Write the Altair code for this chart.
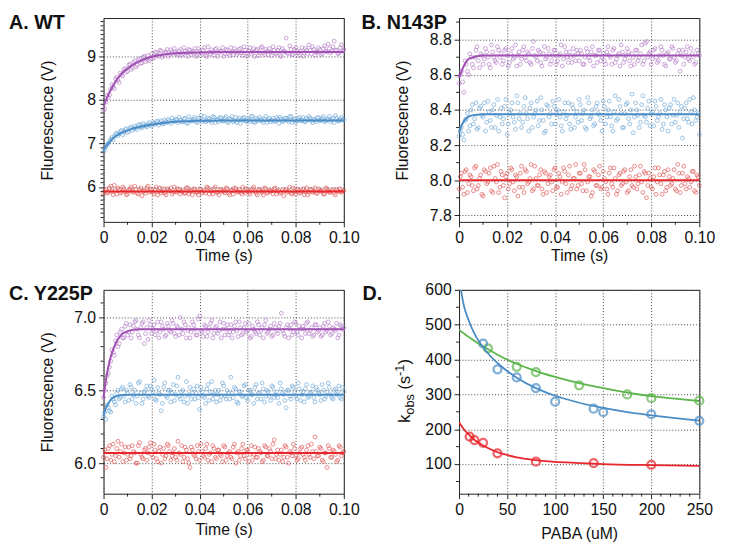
import altair as alt
import pandas as pd

FONT = "Liberation Sans"
W, H = 244, 207

# sample times (s): whole-ms samples and the half-ms samples between them
time_s = [round(i * 0.001, 4) for i in range(101)]
time_h = [round(0.0005 + i * 0.001, 4) for i in range(100)]

# ---------------- Panel A (WT) ----------------
A_purple = [
    7.75, 7.95, 8.05, 8.25, 8.30, 8.48, 8.45, 8.62, 8.55, 8.72,
    8.66, 8.82, 8.74, 8.90, 8.80, 8.95, 8.85, 9.00, 8.92, 8.90,
    9.05, 8.96, 9.08, 9.00, 9.12, 9.02, 9.10, 9.00, 9.15, 9.05,
    9.10, 9.02, 9.16, 9.06, 9.12, 9.00, 9.14, 9.08, 9.18, 9.04,
    9.12, 9.05, 9.20, 9.00, 9.10, 9.15, 9.02, 9.18, 9.08, 9.12,
    9.00, 9.16, 9.06, 9.20, 9.04, 9.12, 9.08, 9.18, 9.02, 9.14,
    9.06, 9.20, 9.10, 9.00, 9.16, 9.08, 9.22, 9.04, 9.12, 9.18,
    9.02, 9.14, 9.08, 9.20, 9.00, 9.12, 9.42, 9.06, 9.16, 9.04,
    9.20, 9.08, 9.12, 9.00, 9.18, 9.06, 9.14, 9.22, 9.02, 9.10,
    9.16, 9.06, 9.24, 9.10, 9.18, 9.12, 9.35, 9.14, 9.08, 9.26,
    9.15]
A_purple_h = [
    7.80, 8.10, 8.12, 8.35, 8.26, 8.52, 8.40, 8.58, 8.70, 8.64,
    8.80, 8.70, 8.86, 8.76, 8.92, 8.84, 8.98, 8.88, 9.02, 8.94,
    8.98, 9.10, 9.02, 9.14, 8.98, 9.08, 9.16, 9.04, 9.10, 9.18,
    9.06, 9.12, 9.02, 9.20, 9.08, 9.16, 9.04, 9.12, 9.00, 9.18,
    9.08, 9.14, 9.02, 9.22, 9.06, 9.10, 9.16, 9.00, 9.12, 9.20,
    9.06, 9.14, 9.02, 9.10, 9.18, 9.04, 9.16, 9.08, 9.22, 9.00,
    9.12, 9.06, 9.18, 9.14, 9.02, 9.20, 9.08, 9.16, 9.04, 9.10,
    9.22, 9.06, 9.14, 9.02, 9.18, 9.10, 9.08, 9.24, 9.04, 9.16,
    9.12, 9.02, 9.20, 9.08, 9.14, 9.26, 9.06, 9.16, 9.10, 9.20,
    9.04, 9.18, 9.12, 9.28, 9.08, 9.22, 9.14, 9.06, 9.20, 9.12]
A_blue = [
    6.80, 6.92, 7.00, 7.10, 7.08, 7.22, 7.18, 7.28, 7.20, 7.32,
    7.25, 7.35, 7.30, 7.40, 7.32, 7.44, 7.36, 7.42, 7.38, 7.48,
    7.40, 7.46, 7.50, 7.42, 7.52, 7.45, 7.50, 7.55, 7.46, 7.52,
    7.56, 7.48, 7.54, 7.50, 7.58, 7.46, 7.55, 7.52, 7.60, 7.48,
    7.54, 7.50, 7.62, 7.52, 7.56, 7.48, 7.60, 7.54, 7.50, 7.58,
    7.52, 7.62, 7.48, 7.56, 7.50, 7.60, 7.54, 7.46, 7.58, 7.52,
    7.56, 7.50, 7.62, 7.48, 7.55, 7.60, 7.52, 7.56, 7.48, 7.58,
    7.54, 7.50, 7.60, 7.46, 7.56, 7.52, 7.58, 7.50, 7.62, 7.54,
    7.48, 7.56, 7.52, 7.60, 7.50, 7.55, 7.58, 7.48, 7.54, 7.60,
    7.52, 7.58, 7.50, 7.56, 7.62, 7.54, 7.48, 7.58, 7.52, 7.60,
    7.55]
A_blue_h = [
    6.86, 6.98, 7.06, 7.14, 7.16, 7.24, 7.22, 7.30, 7.26, 7.34,
    7.28, 7.38, 7.34, 7.36, 7.42, 7.38, 7.46, 7.40, 7.44, 7.42,
    7.48, 7.44, 7.52, 7.48, 7.46, 7.54, 7.48, 7.52, 7.58, 7.50,
    7.54, 7.60, 7.50, 7.56, 7.48, 7.62, 7.52, 7.56, 7.50, 7.58,
    7.64, 7.54, 7.50, 7.58, 7.52, 7.62, 7.48, 7.56, 7.60, 7.52,
    7.58, 7.50, 7.56, 7.62, 7.52, 7.48, 7.58, 7.54, 7.60, 7.50,
    7.54, 7.62, 7.50, 7.58, 7.52, 7.56, 7.48, 7.62, 7.54, 7.50,
    7.58, 7.52, 7.56, 7.60, 7.50, 7.58, 7.54, 7.62, 7.48, 7.56,
    7.52, 7.60, 7.54, 7.50, 7.58, 7.62, 7.52, 7.56, 7.50, 7.58,
    7.54, 7.62, 7.52, 7.56, 7.50, 7.58, 7.64, 7.52, 7.56, 7.54]
A_red = [
    5.85, 5.95, 5.88, 6.02, 5.82, 5.92, 5.98, 5.86, 6.00, 5.90,
    5.84, 5.96, 5.90, 6.02, 5.86, 5.94, 5.80, 5.92, 5.98, 5.88,
    5.95, 5.84, 6.00, 5.90, 5.86, 5.96, 5.82, 5.92, 5.98, 5.88,
    5.90, 5.96, 5.84, 5.92, 5.86, 5.98, 5.90, 5.82, 5.94, 5.88,
    5.96, 5.86, 5.92, 6.00, 5.84, 5.90, 5.96, 5.88, 5.82, 5.94,
    5.90, 5.98, 5.86, 5.92, 5.84, 5.96, 5.90, 5.88, 6.00, 5.86,
    5.92, 5.84, 5.96, 5.90, 5.82, 5.94, 5.88, 5.98, 5.86, 5.92,
    5.90, 5.96, 5.84, 5.92, 5.88, 5.80, 5.94, 5.90, 5.86, 5.98,
    5.84, 5.92, 5.88, 5.96, 5.90, 5.82, 5.94, 5.88, 5.98, 5.86,
    5.92, 5.90, 5.84, 5.96, 5.88, 5.92, 5.86, 5.94, 5.90, 5.88,
    5.92]
A_red_h = [
    5.92, 5.86, 5.98, 5.90, 6.04, 5.84, 5.94, 5.88, 5.96, 5.82,
    5.92, 6.00, 5.88, 5.94, 5.84, 5.98, 5.90, 5.86, 6.02, 5.92,
    5.88, 5.94, 5.82, 5.98, 5.90, 5.86, 5.96, 5.92, 5.84, 6.00,
    5.88, 5.94, 5.90, 5.86, 5.98, 5.84, 5.92, 5.96, 5.88, 5.82,
    5.94, 5.90, 5.86, 5.98, 5.92, 5.84, 6.00, 5.88, 5.94, 5.90,
    5.86, 5.96, 5.82, 5.92, 5.98, 5.88, 5.94, 5.84, 5.90, 5.96,
    5.88, 5.92, 6.00, 5.86, 5.94, 5.90, 5.82, 5.96, 5.88, 5.92,
    5.84, 5.98, 5.90, 5.86, 5.94, 5.92, 5.88, 6.00, 5.84, 5.90,
    5.96, 5.86, 5.92, 5.82, 5.98, 5.88, 5.94, 5.90, 5.86, 5.96,
    5.92, 5.84, 5.98, 5.90, 5.88, 5.94, 5.82, 5.92, 5.96, 5.90]
A_fit_t = [0, 0.002, 0.004, 0.006, 0.008, 0.01, 0.012, 0.015, 0.02, 0.025, 0.03, 0.04, 0.05, 0.1]
A_fit_purple = [7.85, 8.12, 8.33, 8.50, 8.63, 8.72, 8.80, 8.89, 8.99, 9.04, 9.07, 9.09, 9.10, 9.10]
A_fit_blue = [6.85, 7.00, 7.12, 7.20, 7.26, 7.30, 7.34, 7.38, 7.43, 7.47, 7.50, 7.52, 7.53, 7.53]
A_fit_red = [5.90] * len(A_fit_t)

# ---------------- Panel B (N143P) ----------------
B_purple = [
    8.55, 8.62, 8.50, 8.66, 8.60, 8.70, 8.64, 8.74, 8.68, 8.72,
    8.66, 8.75, 8.70, 8.64, 8.73, 8.68, 8.76, 8.70, 8.66, 8.74,
    8.71, 8.67, 8.75, 8.70, 8.65, 8.73, 8.69, 8.76, 8.68, 8.72,
    8.66, 8.79, 8.70, 8.74, 8.67, 8.72, 8.69, 8.75, 8.66, 8.71,
    8.74, 8.68, 8.72, 8.65, 8.76, 8.70, 8.73, 8.67, 8.71, 8.74,
    8.68, 8.72, 8.66, 8.75, 8.70, 8.73, 8.65, 8.71, 8.74, 8.68,
    8.72, 8.66, 8.76, 8.70, 8.74, 8.67, 8.71, 8.65, 8.73, 8.69,
    8.75, 8.68, 8.72, 8.66, 8.74, 8.70, 8.77, 8.68, 8.79, 8.72,
    8.66, 8.74, 8.70, 8.68, 8.76, 8.71, 8.65, 8.73, 8.69, 8.75,
    8.67, 8.72, 8.62, 8.74, 8.70, 8.76, 8.68, 8.72, 8.66, 8.74,
    8.71]
B_purple_h = [
    8.60, 8.56, 8.68, 8.62, 8.72, 8.66, 8.70, 8.76, 8.64, 8.71,
    8.69, 8.73, 8.66, 8.77, 8.70, 8.67, 8.74, 8.72, 8.68, 8.75,
    8.65, 8.72, 8.69, 8.77, 8.71, 8.66, 8.74, 8.70, 8.73, 8.67,
    8.75, 8.71, 8.68, 8.73, 8.65, 8.76, 8.70, 8.72, 8.68, 8.74,
    8.66, 8.71, 8.77, 8.69, 8.73, 8.67, 8.70, 8.75, 8.68, 8.72,
    8.74, 8.66, 8.70, 8.73, 8.68, 8.76, 8.71, 8.67, 8.74, 8.70,
    8.68, 8.73, 8.71, 8.66, 8.75, 8.69, 8.72, 8.77, 8.67, 8.71,
    8.73, 8.65, 8.70, 8.74, 8.68, 8.72, 8.66, 8.78, 8.70, 8.73,
    8.69, 8.75, 8.67, 8.71, 8.74, 8.66, 8.72, 8.69, 8.76, 8.70,
    8.68, 8.74, 8.71, 8.66, 8.73, 8.69, 8.75, 8.70, 8.67, 8.72]
B_blue = [
    8.25, 8.30, 8.23, 8.35, 8.28, 8.40, 8.32, 8.44, 8.30, 8.42,
    8.36, 8.28, 8.45, 8.34, 8.40, 8.30, 8.46, 8.36, 8.32, 8.42,
    8.26, 8.38, 8.44, 8.33, 8.48, 8.35, 8.30, 8.42, 8.38, 8.28,
    8.44, 8.36, 8.40, 8.31, 8.47, 8.34, 8.28, 8.42, 8.38, 8.45,
    8.32, 8.40, 8.36, 8.28, 8.44, 8.37, 8.32, 8.43, 8.30, 8.39,
    8.46, 8.34, 8.40, 8.29, 8.44, 8.36, 8.31, 8.42, 8.38, 8.34,
    8.45, 8.32, 8.40, 8.36, 8.28, 8.48, 8.35, 8.42, 8.30, 8.38,
    8.44, 8.32, 8.49, 8.36, 8.40, 8.30, 8.43, 8.37, 8.33, 8.45,
    8.38, 8.31, 8.42, 8.36, 8.46, 8.32, 8.40, 8.28, 8.43, 8.37,
    8.33, 8.44, 8.39, 8.24, 8.41, 8.35, 8.46, 8.32, 8.40, 8.36,
    8.26]
B_blue_h = [
    8.28, 8.26, 8.34, 8.38, 8.31, 8.43, 8.35, 8.29, 8.41, 8.37,
    8.44, 8.33, 8.39, 8.30, 8.43, 8.37, 8.28, 8.41, 8.35, 8.46,
    8.32, 8.40, 8.36, 8.29, 8.44, 8.38, 8.33, 8.47, 8.35, 8.41,
    8.30, 8.38, 8.45, 8.34, 8.40, 8.27, 8.43, 8.36, 8.32, 8.42,
    8.38, 8.46, 8.31, 8.39, 8.35, 8.44, 8.29, 8.41, 8.36, 8.33,
    8.43, 8.38, 8.30, 8.47, 8.35, 8.40, 8.32, 8.44, 8.37, 8.28,
    8.42, 8.36, 8.45, 8.31, 8.39, 8.34, 8.46, 8.38, 8.30, 8.43,
    8.35, 8.40, 8.27, 8.44, 8.37, 8.33, 8.48, 8.36, 8.41, 8.31,
    8.39, 8.45, 8.34, 8.38, 8.29, 8.43, 8.36, 8.41, 8.32, 8.46,
    8.37, 8.30, 8.42, 8.35, 8.44, 8.33, 8.39, 8.47, 8.34, 8.38]
B_red = [
    7.95, 8.04, 7.92, 8.06, 7.98, 8.02, 7.94, 8.08, 7.97, 8.03,
    7.91, 8.05, 7.99, 8.07, 7.93, 8.01, 8.09, 7.96, 8.03, 7.90,
    8.04, 7.98, 8.06, 7.94, 8.02, 7.96, 8.08, 7.93, 8.05, 7.99,
    8.09, 7.95, 8.01, 7.97, 8.06, 7.92, 8.04, 7.98, 8.03, 7.94,
    8.07, 7.96, 8.02, 7.99, 8.05, 7.93, 8.08, 7.97, 8.01, 7.95,
    8.04, 7.98, 8.09, 7.94, 8.02, 7.91, 8.06, 7.97, 8.03, 7.95,
    8.05, 7.99, 7.92, 8.07, 7.96, 8.01, 7.94, 8.04, 7.98, 8.06,
    7.93, 8.02, 7.97, 8.08, 7.95, 8.03, 7.99, 8.05, 7.90, 8.04,
    7.96, 8.02, 7.92, 8.07, 7.98, 8.03, 7.94, 8.06, 7.97, 8.01,
    7.95, 8.09, 7.93, 8.04, 7.98, 8.02, 7.96, 8.05, 7.94, 8.03,
    7.97]
B_red_h = [
    8.02, 7.96, 8.05, 7.93, 8.03, 7.97, 8.07, 7.95, 8.01, 7.92,
    8.06, 7.98, 8.04, 7.94, 8.08, 7.99, 7.93, 8.05, 7.97, 8.02,
    7.95, 8.07, 7.99, 8.03, 7.91, 8.04, 7.96, 8.06, 7.98, 8.01,
    7.94, 8.08, 7.97, 8.03, 7.95, 8.05, 7.93, 8.02, 7.99, 8.06,
    7.96, 8.04, 7.92, 8.07, 7.98, 8.03, 7.95, 8.01, 8.09, 7.97,
    8.04, 7.94, 8.06, 7.99, 8.02, 7.93, 8.05, 7.97, 8.08, 7.96,
    8.01, 7.95, 8.04, 7.98, 8.07, 7.92, 8.03, 7.97, 8.05, 7.99,
    7.94, 8.06, 7.96, 8.02, 7.98, 8.08, 7.93, 8.04, 7.97, 8.01,
    7.95, 8.07, 7.99, 8.03, 7.92, 8.05, 7.96, 8.02, 7.98, 8.06,
    7.94, 8.04, 7.97, 8.08, 7.95, 8.01, 7.99, 8.05, 7.93, 8.02]
B_fit_t = [0, 0.001, 0.002, 0.003, 0.004, 0.006, 0.008, 0.01, 0.1]
B_fit_purple = [8.58, 8.62, 8.65, 8.675, 8.69, 8.70, 8.707, 8.71, 8.71]
B_fit_blue = [8.27, 8.31, 8.335, 8.352, 8.362, 8.37, 8.373, 8.375, 8.375]
B_fit_red = [8.00] * len(B_fit_t)

# ---------------- Panel C (Y225P) ----------------
C_purple = [
    6.45, 6.55, 6.62, 6.70, 6.76, 6.84, 6.80, 6.90, 6.86, 6.94,
    6.88, 6.95, 6.90, 6.97, 6.92, 6.86, 6.96, 6.82, 6.93, 6.98,
    6.89, 6.95, 6.91, 6.86, 6.97, 6.92, 6.88, 6.94, 6.90, 6.96,
    6.87, 6.93, 7.00, 6.89, 6.95, 6.91, 6.86, 6.97, 6.92, 6.88,
    7.01, 6.90, 6.95, 6.87, 6.93, 6.98, 6.89, 6.94, 6.91, 6.86,
    6.96, 6.92, 6.88, 6.95, 6.90, 6.97, 6.87, 6.93, 6.89, 6.96,
    6.91, 6.86, 6.94, 6.90, 6.97, 6.88, 6.93, 6.95, 6.89, 6.92,
    6.87, 6.96, 6.91, 6.94, 7.03, 6.89, 6.93, 6.86, 6.95, 6.90,
    6.96, 6.88, 6.92, 6.94, 6.89, 6.97, 6.91, 6.87, 6.95, 6.90,
    6.93, 6.88, 6.96, 6.91, 6.94, 6.89, 6.92, 6.96, 6.88, 6.94,
    6.93]
C_purple_h = [
    6.50, 6.60, 6.66, 6.78, 6.74, 6.88, 6.82, 6.92, 6.86, 6.96,
    6.90, 6.86, 6.94, 6.98, 6.88, 6.93, 6.97, 6.89, 6.85, 6.95,
    6.92, 6.88, 6.97, 6.90, 6.94, 6.87, 6.96, 6.91, 6.98, 6.89,
    6.94, 6.88, 6.92, 6.97, 6.86, 6.93, 6.90, 6.95, 6.88, 6.99,
    6.91, 6.87, 6.94, 6.90, 6.96, 6.86, 6.93, 6.89, 6.97, 6.92,
    6.88, 6.95, 6.90, 6.86, 6.94, 6.91, 6.97, 6.88, 6.93, 6.90,
    6.96, 6.87, 6.92, 6.89, 6.95, 6.91, 6.86, 6.98, 6.90, 6.94,
    6.88, 6.93, 6.89, 6.96, 6.91, 6.87, 6.95, 6.92, 6.88, 6.97,
    6.90, 6.94, 6.86, 6.92, 6.96, 6.89, 6.93, 6.88, 6.95, 6.91,
    6.87, 6.94, 6.90, 6.97, 6.88, 6.93, 6.91, 6.86, 6.95, 6.92]
C_blue = [
    6.32, 6.30, 6.38, 6.35, 6.44, 6.40, 6.50, 6.45, 6.52, 6.42,
    6.48, 6.54, 6.44, 6.50, 6.46, 6.56, 6.41, 6.49, 6.53, 6.45,
    6.51, 6.57, 6.43, 6.48, 6.36, 6.52, 6.46, 6.50, 6.42, 6.54,
    6.47, 6.59, 6.44, 6.50, 6.46, 6.41, 6.52, 6.48, 6.44, 6.53,
    6.37, 6.49, 6.45, 6.51, 6.43, 6.56, 6.47, 6.42, 6.50, 6.46,
    6.53, 6.44, 6.48, 6.59, 6.45, 6.51, 6.41, 6.49, 6.46, 6.54,
    6.43, 6.50, 6.47, 6.52, 6.44, 6.48, 6.55, 6.42, 6.50, 6.46,
    6.53, 6.45, 6.49, 6.41, 6.51, 6.47, 6.38, 6.50, 6.44, 6.52,
    6.46, 6.55, 6.43, 6.49, 6.51, 6.45, 6.48, 6.53, 6.42, 6.50,
    6.47, 6.54, 6.44, 6.49, 6.52, 6.45, 6.50, 6.47, 6.53, 6.44,
    6.49]
C_blue_h = [
    6.35, 6.40, 6.36, 6.46, 6.42, 6.48, 6.44, 6.51, 6.46, 6.50,
    6.43, 6.52, 6.47, 6.41, 6.55, 6.48, 6.44, 6.50, 6.46, 6.53,
    6.49, 6.44, 6.52, 6.47, 6.41, 6.55, 6.45, 6.50, 6.48, 6.43,
    6.53, 6.46, 6.49, 6.42, 6.56, 6.47, 6.44, 6.51, 6.48, 6.45,
    6.52, 6.46, 6.41, 6.54, 6.49, 6.44, 6.50, 6.47, 6.43, 6.55,
    6.46, 6.50, 6.44, 6.48, 6.52, 6.42, 6.49, 6.46, 6.53, 6.45,
    6.50, 6.47, 6.41, 6.54, 6.48, 6.44, 6.51, 6.46, 6.49, 6.43,
    6.52, 6.47, 6.45, 6.55, 6.48, 6.43, 6.50, 6.46, 6.53, 6.49,
    6.44, 6.51, 6.47, 6.42, 6.54, 6.46, 6.49, 6.45, 6.52, 6.48,
    6.43, 6.50, 6.46, 6.55, 6.47, 6.44, 6.51, 6.49, 6.45, 6.52]
C_red = [
    6.04, 5.97, 6.10, 6.02, 6.13, 6.05, 6.15, 6.08, 6.01, 6.11,
    6.06, 6.03, 6.12, 6.07, 6.00, 6.14, 6.04, 6.09, 6.02, 6.11,
    6.06, 6.13, 6.03, 6.08, 6.00, 6.10, 6.05, 6.12, 6.02, 6.07,
    6.04, 6.15, 6.06, 6.01, 6.11, 6.03, 5.97, 6.09, 6.05, 6.12,
    6.02, 6.08, 6.04, 6.13, 6.06, 6.01, 6.10, 6.03, 6.09, 6.05,
    6.12, 6.02, 6.07, 6.04, 6.11, 6.00, 6.08, 6.05, 6.13, 6.03,
    6.09, 6.06, 6.02, 6.11, 6.04, 6.08, 6.01, 6.12, 6.05, 6.10,
    6.03, 6.16, 6.06, 6.02, 6.09, 6.04, 6.11, 6.00, 6.07, 6.13,
    6.05, 6.03, 6.10, 6.06, 6.02, 6.12, 6.04, 6.08, 6.18, 6.05,
    6.11, 6.02, 6.07, 5.97, 6.10, 6.04, 6.08, 6.01, 6.12, 6.05,
    6.08]
C_red_h = [
    6.09, 6.03, 6.12, 6.06, 6.01, 6.10, 6.04, 6.13, 6.07, 6.02,
    6.11, 6.05, 6.08, 6.00, 6.12, 6.06, 6.03, 6.10, 6.07, 6.14,
    6.04, 6.09, 6.01, 6.11, 6.06, 6.03, 6.13, 6.08, 6.05, 6.10,
    6.02, 6.07, 6.12, 6.04, 6.09, 6.00, 6.11, 6.06, 6.03, 6.08,
    6.13, 6.05, 6.10, 6.02, 6.07, 6.12, 6.04, 6.09, 6.06, 6.01,
    6.11, 6.05, 6.08, 6.03, 6.13, 6.07, 6.02, 6.10, 6.05, 6.09,
    6.01, 6.12, 6.06, 6.04, 6.10, 6.07, 6.02, 6.11, 6.05, 6.08,
    6.13, 6.03, 6.09, 6.06, 6.01, 6.12, 6.04, 6.08, 6.05, 6.10,
    6.02, 6.07, 6.11, 6.04, 6.09, 6.06, 6.13, 6.03, 6.08, 6.05,
    6.10, 6.01, 6.07, 6.12, 6.04, 6.09, 6.06, 6.02, 6.11, 6.07]
C_fit_t = [0, 0.001, 0.002, 0.003, 0.004, 0.005, 0.006, 0.008, 0.01, 0.012, 0.015, 0.1]
C_fit_purple = [6.45, 6.57, 6.66, 6.73, 6.78, 6.82, 6.85, 6.89, 6.905, 6.915, 6.92, 6.92]
C_fit_blue = [6.33, 6.38, 6.41, 6.435, 6.45, 6.458, 6.463, 6.468, 6.47, 6.47, 6.47, 6.47]
C_fit_red = [6.07] * len(C_fit_t)

# ---------------- Panel D (kobs vs PABA) ----------------
D_blue_x = [25, 40, 60, 80, 100, 140, 150, 200, 250]
D_blue_y = [446, 372, 349, 318, 279, 259, 249, 243, 224]
D_green_x = [30, 60, 80, 125, 175, 200, 250]
D_green_y = [432, 379, 364, 326, 300, 289, 282]
D_red_x = [11, 16, 25, 40, 80, 140, 200]
D_red_y = [179, 169, 161, 131, 107, 103, 98]
D_fit_blue_x = [2, 5, 10, 15, 20, 25, 30, 40, 50, 60, 80, 100, 125, 150, 175, 200, 225, 250]
D_fit_blue_y = [600, 555, 513, 480, 455, 436, 418, 390, 367, 348, 318, 296, 276, 261, 249, 240, 232, 225]
D_fit_green_x = [0, 10, 20, 30, 40, 50, 60, 75, 100, 125, 150, 175, 200, 225, 250]
D_fit_green_y = [485, 465, 446, 430, 414, 400, 388, 372, 350, 332, 318, 305, 295, 288, 281]
D_fit_red_x = [0, 5, 10, 15, 20, 30, 40, 50, 60, 80, 100, 125, 150, 200, 250]
D_fit_red_y = [220, 200, 185, 172, 162, 146, 134, 126, 119, 111, 106, 103, 100, 97, 95]

SERIES = ["purple", "blue", "red"]
PT_COLORS = ["#b47cc7", "#6ea7d6", "#e25555"]
LN_COLORS = ["#a04fb3", "#4a8cc6", "#e8262b"]


def pts_frame(series):
    rows = []
    for name, (vals, vals_h) in series.items():
        for x, v in list(zip(time_s, vals)) + list(zip(time_h, vals_h)):
            rows.append({"t": x, "v": v, "s": name})
    return pd.DataFrame(rows)


def fit_frame(ts, series):
    rows = []
    for name, vals in series.items():
        for x, v in zip(ts, vals):
            rows.append({"t": x, "v": v, "s": name})
    return pd.DataFrame(rows)


def text_layer(txt, x, y, size, weight="normal", angle=0):
    return alt.Chart(pd.DataFrame({"l": [txt]})).mark_text(
        align="left", baseline="alphabetic", font=FONT, fontSize=size,
        fontWeight=weight, angle=angle, color="#111"
    ).encode(x=alt.value(x), y=alt.value(y), text="l:N")


def minor_layers(xs, ys, xax, yax, xminor, yminor):
    xm = alt.Chart(pd.DataFrame({"t": xminor})).mark_rule(color="#222", strokeWidth=1).encode(
        x=alt.X("t:Q", scale=xs, axis=xax), y=alt.value(H), y2=alt.value(H + 3))
    ym = alt.Chart(pd.DataFrame({"v": yminor})).mark_rule(color="#222", strokeWidth=1).encode(
        y=alt.Y("v:Q", scale=ys, axis=yax), x=alt.value(0), x2=alt.value(-3))
    return [xm, ym]


X_MAJOR = [0, 0.02, 0.04, 0.06, 0.08, 0.1]
X_MINOR = [0.01, 0.03, 0.05, 0.07, 0.09]
X_EXPR = "datum.value == 0 ? '0' : format(datum.value, '.2f')"


def kinetic_panel(pts, fits, fit_t, ydom, yvals, yfmt, yminor, label, lx, xty):
    xs = alt.Scale(domain=[0, 0.1], nice=False, zero=False)
    ys = alt.Scale(domain=ydom, nice=False, zero=False)
    xax = alt.Axis(values=X_MAJOR, labelExpr=X_EXPR, title="Time (s)", titleX=W / 2, titleY=xty)
    yax = alt.Axis(values=yvals, format=yfmt, title="Fluorescence (V)", titleX=-57, titleY=H / 2)
    p = alt.Chart(pts_frame(pts)).mark_point(shape="circle", filled=False, size=15, strokeWidth=0.8,
                                             opacity=0.85).encode(
        x=alt.X("t:Q", scale=xs, axis=xax),
        y=alt.Y("v:Q", scale=ys, axis=yax),
        stroke=alt.Stroke("s:N", scale=alt.Scale(domain=SERIES, range=PT_COLORS), legend=None),
    )
    l = alt.Chart(fit_frame(fit_t, fits)).mark_line(strokeWidth=2, interpolate="monotone").encode(
        x=alt.X("t:Q", scale=xs, axis=xax),
        y=alt.Y("v:Q", scale=ys, axis=yax),
        color=alt.Color("s:N", scale=alt.Scale(domain=SERIES, range=LN_COLORS), legend=None),
    )
    layers = [p, l] + minor_layers(xs, ys, xax, yax, X_MINOR, yminor) + [text_layer(label, lx, 10.7, 20, "bold")]
    return alt.layer(*layers).properties(width=W, height=H)


pA = kinetic_panel({"purple": (A_purple, A_purple_h), "blue": (A_blue, A_blue_h), "red": (A_red, A_red_h)},
                   {"purple": A_fit_purple, "blue": A_fit_blue, "red": A_fit_red}, A_fit_t,
                   [5.2, 9.88], [6, 7, 8, 9], "d",
                   [round(5.3 + 0.1 * i, 1) for i in range(46) if abs((5.3 + 0.1 * i) - round(5.3 + 0.1 * i)) > 0.01],
                   "A. WT", -96, 39)
pB = kinetic_panel({"purple": (B_purple, B_purple_h), "blue": (B_blue, B_blue_h), "red": (B_red, B_red_h)},
                   {"purple": B_fit_purple, "blue": B_fit_blue, "red": B_fit_red}, B_fit_t,
                   [7.763, 8.923], [7.8, 8.0, 8.2, 8.4, 8.6, 8.8], ".1f",
                   [7.9, 8.1, 8.3, 8.5, 8.7, 8.9],
                   "B. N143P", -99, 39)
pC = kinetic_panel({"purple": (C_purple, C_purple_h), "blue": (C_blue, C_blue_h), "red": (C_red, C_red_h)},
                   {"purple": C_fit_purple, "blue": C_fit_blue, "red": C_fit_red}, C_fit_t,
                   [5.79, 7.19], [6.0, 6.5, 7.0], ".1f",
                   [5.9, 6.1, 6.2, 6.3, 6.4, 6.6, 6.7, 6.8, 6.9, 7.1],
                   "C. Y225P", -96, 41)

# Panel D
D_SER = ["green", "blue", "red"]
D_COLORS = ["#5bb54a", "#4a8cc6", "#e8262b"]
d_pts = pd.concat([
    pd.DataFrame({"t": D_green_x, "v": D_green_y, "s": "green"}),
    pd.DataFrame({"t": D_blue_x, "v": D_blue_y, "s": "blue"}),
    pd.DataFrame({"t": D_red_x, "v": D_red_y, "s": "red"}),
])
d_fit = pd.concat([
    pd.DataFrame({"t": D_fit_green_x, "v": D_fit_green_y, "s": "green"}),
    pd.DataFrame({"t": D_fit_blue_x, "v": D_fit_blue_y, "s": "blue"}),
    pd.DataFrame({"t": D_fit_red_x, "v": D_fit_red_y, "s": "red"}),
])
dxs = alt.Scale(domain=[0, 250], nice=False, zero=False)
dys = alt.Scale(domain=[15, 600], nice=False, zero=False)
dxax = alt.Axis(values=[0, 50, 100, 150, 200, 250], format="d", title="PABA (uM)", titleX=W / 2, titleY=45)
dyax = alt.Axis(values=[100, 200, 300, 400, 500, 600], format="d", title=" ")
d_point = alt.Chart(d_pts).mark_point(shape="circle", filled=False, size=65, strokeWidth=2.3).encode(
    x=alt.X("t:Q", scale=dxs, axis=dxax),
    y=alt.Y("v:Q", scale=dys, axis=dyax),
    stroke=alt.Stroke("s:N", scale=alt.Scale(domain=D_SER, range=D_COLORS), legend=None),
)
d_line = alt.Chart(d_fit).mark_line(strokeWidth=1.8, interpolate="monotone", clip=True).encode(
    x=alt.X("t:Q", scale=dxs, axis=dxax),
    y=alt.Y("v:Q", scale=dys, axis=dyax),
    color=alt.Color("s:N", scale=alt.Scale(domain=D_SER, range=D_COLORS), legend=None),
)
d_layers = [d_point, d_line] + minor_layers(
    dxs, dys, dxax, dyax, [v for v in range(10, 250, 10) if v % 50], [50, 150, 250, 350, 450, 550]) + [
    text_layer("D.", -98, 10.7, 20, "bold"),
    text_layer("k", -50, 135, 16.5, angle=270),
    text_layer("obs", -46, 126.8, 13, angle=270),
    text_layer("(s", -50, 101.2, 16.5, angle=270),
    text_layer("-1", -56, 87.5, 13, angle=270),
    text_layer(")", -50, 75.9, 16.5, angle=270),
]
pD = alt.layer(*d_layers).properties(width=W, height=H)

chart = alt.concat(pA, pB, pC, pD, columns=2, spacing={"row": 17, "column": 0}).resolve_scale(
    color="independent", stroke="independent"
).properties(
    padding={"left": 0, "top": 0, "right": 5, "bottom": 5}
).configure_view(stroke="#222", strokeWidth=1).configure_axis(
    labelFont=FONT, labelFontSize=16, labelColor="#111", labelPadding=3,
    labelFlush=False, labelOverlap=False,
    titleFont=FONT, titleFontSize=16, titleFontWeight="normal", titleColor="#111",
    titleAngle=270, titleBaseline="middle", titleAlign="center",
    tickColor="#222", tickSize=5, tickWidth=1, domain=False,
    grid=True, gridColor="#333", gridDash=[1, 2], gridWidth=0.9, gridOpacity=1,
).configure_axisX(titleAngle=0, titleBaseline="alphabetic")

chart.save("out.html", embed_options={"renderer": "svg", "actions": False})
